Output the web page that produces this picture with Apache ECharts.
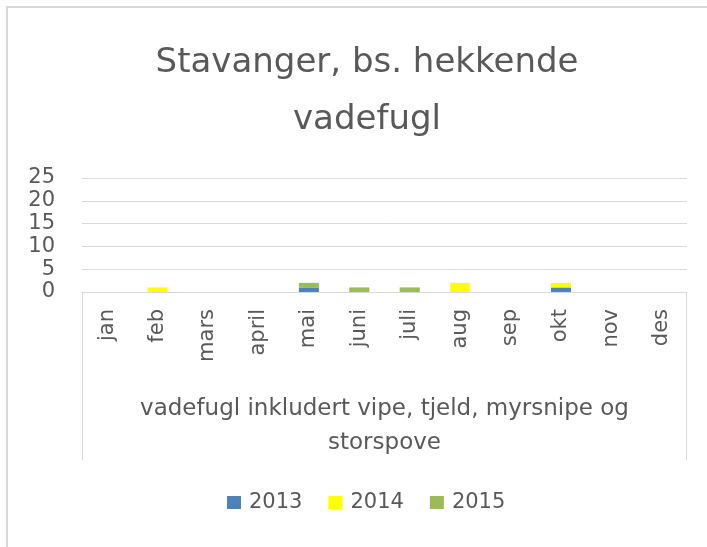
<!DOCTYPE html>
<html>
<head>
<meta charset="utf-8">
<script src="https://cdn.jsdelivr.net/npm/echarts@6/dist/echarts.min.js"></script>
<style>
html,body{margin:0;padding:0;background:#fff;}
#chart{width:707px;height:547px;}
</style>
</head>
<body>
<div id="chart"></div>
<script>
var categories = ['jan','feb','mars','april','mai','juni','juli','aug','sep','okt','nov','des'];
var seriesNames = ['2013','2014','2015'];
var values2013 = [0,0,0,0,1,0,0,0,0,1,0,0];
var values2014 = [0,1,0,0,0,0,0,2,0,1,0,0];
var values2015 = [0,0,0,0,1,1,1,0,0,0,0,0];
var yTicks = [0,5,10,15,20,25];
var colors = ['#4f81bd','#ffff00','#9bbb59'];

var chart = echarts.init(document.getElementById('chart'));
var font = 'DejaVu Sans';
var txt = '#595959';
var allValues = [values2013, values2014, values2015];
chart.setOption({
  animation: false,
  title: {
    text: 'Stavanger, bs. hekkende\nvadefugl',
    left: 362, top: 30, textAlign: 'center',
    textStyle: {fontFamily: font, fontSize: 34, fontWeight: 'normal', color: txt, lineHeight: 57}
  },
  legend: {
    data: seriesNames,
    bottom: 29, left: 222,
    itemWidth: 14, itemHeight: 13, itemGap: 26,
    icon: 'rect',
    textStyle: {fontFamily: font, fontSize: 21, color: txt, padding: [0, 0, 0, 3]}
  },
  grid: {left: 82, right: 20, top: 178, bottom: 255, containLabel: false},
  xAxis: {
    type: 'category', data: categories,
    axisLine: {lineStyle: {color: '#d9d9d9'}},
    axisTick: {show: false},
    axisLabel: {rotate: 90, margin: 17, fontFamily: font, fontSize: 21, color: txt, interval: 0},
    name: 'vadefugl inkludert vipe, tjeld, myrsnipe og\nstorspove',
    nameLocation: 'middle', nameGap: 100,
    nameTextStyle: {fontFamily: font, fontSize: 23, color: txt, lineHeight: 34}
  },
  yAxis: {
    type: 'value', min: yTicks[0], max: yTicks[yTicks.length-1], interval: 5,
    axisLine: {show: false}, axisTick: {show: false},
    splitLine: {lineStyle: {color: '#d9d9d9', width: 1}},
    axisLabel: {fontFamily: font, fontSize: 21, color: txt, margin: 27}
  },
  graphic: [
    {type: 'line', shape: {x1: 6, y1: 7, x2: 707, y2: 7}, style: {stroke: '#d9d9d9', lineWidth: 2}},
    {type: 'line', shape: {x1: 7, y1: 6, x2: 7, y2: 547}, style: {stroke: '#d9d9d9', lineWidth: 2}},
    {type: 'line', shape: {x1: 82.5, y1: 292, x2: 82.5, y2: 460}, style: {stroke: '#d9d9d9', lineWidth: 1}},
    {type: 'line', shape: {x1: 686.5, y1: 292, x2: 686.5, y2: 460}, style: {stroke: '#d9d9d9', lineWidth: 1}}
  ],
  series: seriesNames.map(function(n, i){
    return {name: n, type: 'bar', stack: 'total', data: allValues[i], barWidth: 20,
      itemStyle: {color: colors[i]}};
  })
});
</script>
</body>
</html>
